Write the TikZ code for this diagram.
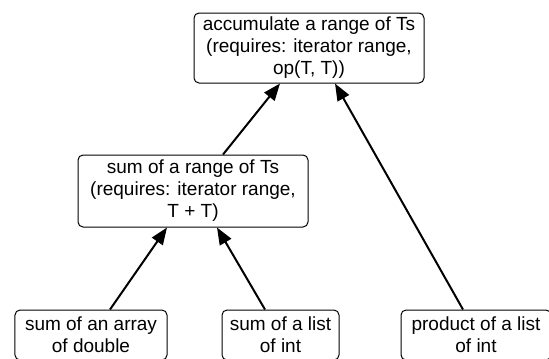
\documentclass[tikz,border=0pt]{standalone}
\usepackage{fontspec}
\setmainfont{Liberation Sans}
\usetikzlibrary{arrows.meta}
\begin{document}
\begin{tikzpicture}[x=1bp, y=-1bp,
  box/.style={draw=black, line width=1bp, rounded corners=5bp, inner sep=0pt,
    align=center, font=\fontsize{19bp}{22bp}\selectfont},
  link/.style={line width=2bp, -{Triangle[length=17bp,width=13bp]}}]
\clip (0,0) rectangle (549,358);
\fill[white] (0,0) rectangle (549,358);

% generic algorithm
\node[box, minimum width=230bp, minimum height=70bp] (acc) at (309,48)
  {accumulate a range of Ts\\(requires: iterator range,\\op(T, T))};
% specialisation for addition
\node[box, minimum width=230bp, minimum height=72bp] (sum) at (193,191)
  {sum of a range of Ts\\(requires: iterator range,\\T + T)};
% concrete uses
\node[box, minimum width=152bp, minimum height=50bp] (arr) at (91,335)
  {sum of an array\\of double};
\node[box, minimum width=117bp, minimum height=50bp] (lst) at (280.5,335)
  {sum of a list\\of int};
\node[box, minimum width=150bp, minimum height=50bp] (prd) at (476,335)
  {product of a list\\of int};

% refinement arrows
\draw[link] ([xshift=19bp]arr.north) -- ([xshift=-26bp]sum.south);
\draw[link] ([xshift=-15.5bp]lst.north) -- ([xshift=24bp]sum.south);
\draw[link] ([xshift=30bp]sum.north) -- ([xshift=-29bp]acc.south);
\draw[link] ([xshift=-13bp]prd.north) -- ([xshift=26bp]acc.south);
\end{tikzpicture}
\end{document}
